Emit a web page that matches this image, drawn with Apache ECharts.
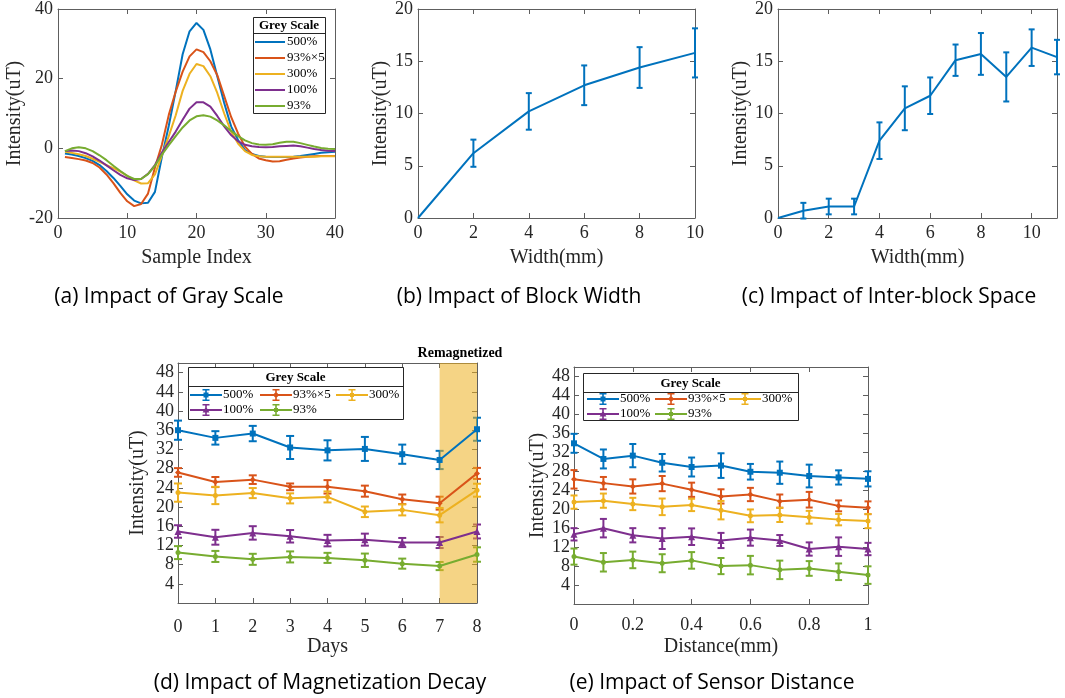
<!DOCTYPE html>
<html>
<head>
<meta charset="utf-8">
<script src="https://cdn.jsdelivr.net/npm/echarts@6/dist/echarts.min.js"></script>
<style>
html, body { margin: 0; padding: 0; background: #fff; }
#main { width: 1065px; height: 698px; }
</style>
</head>
<body>
<div id="main"></div>
<script>
var COLORS = ['#0072BD', '#D95319', '#EDB120', '#7E2F8E', '#77AC30'];
var NAMES = ['500%', '93%×5', '300%', '100%', '93%'];
var SERIF = 'Liberation Serif';
var AX = '#5e5e5e';
var TXT = '#262626';

// (a) gray scale
var sampleIdx = [1,2,3,4,5,6,7,8,9,10,11,12,13,14,15,16,17,18,19,20,21,22,23,24,25,26,27,28,29,30,31,32,33,34,35,36,37,38,39,40];
var a500  = [-1.5,-1.8,-2.2,-2.8,-3.6,-4.8,-6.5,-8.5,-10.8,-13.2,-15.0,-15.8,-15.6,-12.5,-2.5,6.5,16.5,27.0,33.6,36.0,34.0,28.4,20.7,13.0,6.3,2.4,-0.5,-1.6,-2.2,-2.4,-2.5,-2.5,-2.5,-2.4,-2.2,-1.9,-1.6,-1.3,-1.1,-1.0];
var a93x5 = [-2.5,-2.8,-3.1,-3.5,-4.2,-5.5,-7.5,-10.0,-12.8,-15.2,-16.6,-16.0,-13.0,-5.5,1.0,9.6,16.3,22.0,26.4,28.4,27.6,25.0,21.0,15.0,9.0,4.3,0.5,-1.6,-2.9,-3.4,-3.8,-3.7,-3.3,-2.9,-2.6,-2.4,-2.3,-2.2,-2.2,-2.2];
var a300  = [-1.0,-1.3,-1.7,-2.2,-3.0,-3.9,-4.8,-5.7,-6.7,-7.9,-9.2,-10.1,-10.0,-7.5,-2.0,3.5,9.5,16.5,21.4,24.2,23.6,20.7,15.9,10.0,4.8,1.4,-0.8,-1.9,-2.3,-2.4,-2.4,-2.4,-2.4,-2.4,-2.4,-2.4,-2.4,-2.3,-2.3,-2.3];
var a100  = [-0.8,-0.6,-0.8,-1.4,-2.3,-3.5,-4.9,-6.3,-7.6,-8.6,-9.1,-8.8,-7.3,-4.8,-1.2,1.8,4.8,8.2,11.4,13.2,13.2,12.0,9.3,6.3,3.8,2.0,1.0,0.6,0.4,0.3,0.4,0.6,0.7,0.8,0.6,0.2,-0.2,-0.5,-0.7,-0.8];
var a93   = [-0.8,0.0,0.3,0.0,-0.8,-2.0,-3.4,-5.0,-6.5,-7.9,-8.8,-8.8,-7.4,-5.0,-1.8,0.9,3.5,6.0,8.0,9.2,9.5,9.1,8.0,6.6,5.0,3.5,2.3,1.5,1.1,1.0,1.2,1.6,1.9,1.9,1.5,1.0,0.5,0.1,-0.1,-0.2];

// (b) block width
var bWidth = [0, 2, 4, 6, 8, 10];
var bMean  = [0, 6.2, 10.2, 12.7, 14.4, 15.8];
var bErr   = [0, 1.3, 1.75, 1.9, 1.95, 2.35];

// (c) inter-block space
var cWidth = [0, 1, 2, 3, 4, 5, 6, 7, 8, 9, 10, 11];
var cMean  = [0, 0.7, 1.1, 1.1, 7.4, 10.5, 11.7, 15.1, 15.7, 13.5, 16.3, 15.4];
var cErr   = [0, 0.75, 0.75, 0.75, 1.75, 2.1, 1.75, 1.5, 2.0, 2.35, 1.75, 1.65];

// (d) magnetization decay
var dDays    = [0, 1, 2, 3, 4, 5, 6, 7, 8];
var d500     = [36.0, 34.4, 35.3, 32.4, 31.8, 32.1, 31.0, 29.8, 36.2];
var d500Err  = [2.0, 1.4, 1.6, 2.4, 2.1, 2.5, 2.0, 1.9, 2.4];
var d93x5    = [27.2, 25.2, 25.7, 24.2, 24.2, 23.3, 21.6, 20.8, 27.0];
var d93x5Err = [0.9, 1.05, 0.9, 0.7, 1.4, 1.15, 1.0, 1.35, 1.15];
var d300     = [23.0, 22.4, 22.9, 21.8, 22.1, 19.0, 19.4, 18.3, 23.5];
var d300Err  = [1.9, 1.8, 1.05, 1.05, 1.15, 1.1, 1.15, 1.5, 1.35];
var d100     = [14.9, 13.7, 14.6, 13.9, 13.0, 13.2, 12.6, 12.6, 14.9];
var d100Err  = [1.3, 1.55, 1.4, 1.3, 1.2, 1.25, 0.95, 1.15, 1.45];
var d93      = [10.5, 9.7, 9.1, 9.6, 9.4, 8.9, 8.2, 7.7, 10.1];
var d93Err   = [1.35, 1.15, 1.15, 1.15, 1.05, 1.4, 1.05, 0.85, 1.5];
var dShade   = [[7, 8]];

// (e) sensor distance
var eDist    = [0, 0.1, 0.2, 0.3, 0.4, 0.5, 0.6, 0.7, 0.8, 0.9, 1];
var e500     = [33.9, 30.6, 31.3, 29.8, 28.9, 29.2, 27.9, 27.7, 27.0, 26.7, 26.4];
var e500Err  = [2.0, 2.0, 2.45, 1.85, 2.0, 2.6, 1.65, 2.35, 2.4, 1.5, 1.6];
var e93x5    = [26.3, 25.5, 24.8, 25.4, 24.1, 22.7, 23.1, 21.7, 22.0, 20.7, 20.3];
var e93x5Err = [1.95, 1.3, 1.5, 1.6, 1.5, 1.5, 1.4, 1.4, 1.65, 1.15, 1.35];
var e300     = [21.5, 21.8, 21.1, 20.5, 20.9, 19.8, 18.6, 18.8, 18.3, 17.8, 17.5];
var e300Err  = [1.4, 1.5, 1.3, 1.75, 1.3, 1.95, 1.35, 1.5, 1.35, 1.2, 1.5];
var e100     = [14.7, 16.0, 14.5, 13.8, 14.2, 13.4, 14.0, 13.4, 11.6, 12.1, 11.6];
var e100Err  = [1.3, 1.95, 1.5, 2.2, 1.75, 1.6, 1.7, 1.15, 1.4, 1.95, 1.3];
var e93      = [10.0, 8.8, 9.3, 8.6, 9.2, 8.0, 8.2, 7.2, 7.5, 6.8, 6.1];
var e93Err   = [1.7, 1.95, 1.75, 1.9, 1.75, 1.7, 1.95, 1.95, 1.55, 1.75, 1.85];

var SYMBOLS = ['rect', 'diamond', 'circle', 'triangle', 'circle'];
var SYMSIZE = [6, 6, 5, 7, 5];

function pairs(xs, ys) {
    return xs.map(function (x, i) { return [x, ys[i]]; });
}
function errData(xs, ys, es) {
    var out = [];
    xs.forEach(function (x, i) {
        if (es[i] > 0) out.push([x, ys[i] - es[i], ys[i] + es[i]]);
    });
    return out;
}
function errRender(cap) {
    return function (params, api) {
        var x = api.value(0);
        var lo = api.coord([x, api.value(1)]);
        var hi = api.coord([x, api.value(2)]);
        var st = { stroke: api.visual('color'), lineWidth: 2 };
        return {
            type: 'group',
            children: [
                { type: 'line', shape: { x1: lo[0], y1: lo[1], x2: hi[0], y2: hi[1] }, style: st },
                { type: 'line', shape: { x1: lo[0] - cap, y1: lo[1], x2: lo[0] + cap, y2: lo[1] }, style: st },
                { type: 'line', shape: { x1: hi[0] - cap, y1: hi[1], x2: hi[0] + cap, y2: hi[1] }, style: st }
            ]
        };
    };
}

var grids = [
    { left: 58, top: 9, width: 277, height: 209 },
    { left: 418, top: 9, width: 277, height: 209 },
    { left: 778, top: 9, width: 279, height: 209 },
    { left: 178, top: 363, width: 299, height: 240 },
    { left: 574, top: 367, width: 294, height: 237 }
];
var xAxes = [], yAxes = [];

function addAxes(g, xr, yr, c) {
    var line = { show: true, onZero: false, lineStyle: { color: AX, width: 1 } };
    var tick = { show: true, inside: true, length: 5, lineStyle: { color: AX } };
    var lab = { color: TXT, fontFamily: SERIF, fontSize: 18 };
    xAxes.push({
        type: 'value', gridIndex: g, position: 'bottom', min: xr[0], max: xr[1], interval: xr[2],
        axisLine: line, axisTick: tick, splitLine: { show: false },
        axisLabel: Object.assign({ margin: c.xMargin, formatter: c.xFmt }, lab),
        name: c.xName, nameLocation: 'middle', nameGap: c.xGap,
        nameTextStyle: { color: TXT, fontFamily: SERIF, fontSize: 20 }
    });
    xAxes.push({
        type: 'value', gridIndex: g, position: 'top', min: xr[0], max: xr[1], interval: xr[2],
        axisLine: line, axisTick: tick, splitLine: { show: false }, axisLabel: { show: false }
    });
    yAxes.push({
        type: 'value', gridIndex: g, position: 'left', min: yr[0], max: yr[1], interval: yr[2],
        axisLine: line, axisTick: tick, splitLine: { show: false },
        axisLabel: Object.assign({ margin: c.yMargin, formatter: c.yFmt }, lab),
        name: 'Intensity(uT)', nameLocation: 'middle', nameGap: c.yGap,
        nameTextStyle: { color: TXT, fontFamily: SERIF, fontSize: 20 }
    });
    yAxes.push({
        type: 'value', gridIndex: g, position: 'right', min: yr[0], max: yr[1], interval: yr[2],
        axisLine: line, axisTick: tick, splitLine: { show: false }, axisLabel: { show: false }
    });
}

addAxes(0, [0, 40, 10], [-20, 40, 20], { xName: 'Sample Index', xGap: 30, xMargin: 6, yGap: 33, yMargin: 5 });
addAxes(1, [0, 10, 2], [0, 20, 5], { xName: 'Width(mm)', xGap: 30, xMargin: 6, yGap: 25, yMargin: 5 });
addAxes(2, [0, 11, 2], [0, 20, 5], {
    xName: 'Width(mm)', xGap: 30, xMargin: 6, yGap: 26, yMargin: 5,
    xFmt: function (v) { return v === 11 ? '' : String(v); }
});
addAxes(3, [0, 8, 1], [0, 50, 4], {
    xName: 'Days', xGap: 34, xMargin: 15, yGap: 30, yMargin: 4,
    yFmt: function (v) { return (v === 0 || v === 50) ? '' : String(v); }
});
addAxes(4, [0, 1, 0.2], [0, 50, 4], {
    xName: 'Distance(mm)', xGap: 33, xMargin: 12, yGap: 24, yMargin: 4,
    yFmt: function (v) { return (v === 0 || v === 50) ? '' : String(v); }
});

var series = [];

// (a)
[a500, a93x5, a300, a100, a93].forEach(function (arr, k) {
    series.push({
        type: 'line', name: NAMES[k], xAxisIndex: 0, yAxisIndex: 0,
        data: pairs(sampleIdx, arr), symbol: 'none',
        lineStyle: { width: 2, color: COLORS[k] }, itemStyle: { color: COLORS[k] }
    });
});

// (b), (c)
[[bWidth, bMean, bErr, 2], [cWidth, cMean, cErr, 4]].forEach(function (p) {
    series.push({
        type: 'line', name: 'mean' + p[3], xAxisIndex: p[3], yAxisIndex: p[3],
        data: pairs(p[0], p[1]), symbol: 'none',
        lineStyle: { width: 2, color: COLORS[0] }, itemStyle: { color: COLORS[0] }
    });
    series.push({
        type: 'custom', name: 'err' + p[3], xAxisIndex: p[3], yAxisIndex: p[3],
        data: errData(p[0], p[1], p[2]), encode: { x: 0, y: [1, 2] },
        itemStyle: { color: COLORS[0] }, renderItem: errRender(3), silent: true
    });
});

// (d), (e)
function addGroup(ax, xs, means, errs, cap) {
    means.forEach(function (arr, k) {
        series.push({
            type: 'line', name: NAMES[k], xAxisIndex: ax, yAxisIndex: ax,
            data: pairs(xs, arr), symbol: SYMBOLS[k], symbolSize: SYMSIZE[k], showSymbol: true,
            lineStyle: { width: 2, color: COLORS[k] }, itemStyle: { color: COLORS[k] }
        });
        series.push({
            type: 'custom', name: 'err' + ax + '_' + k, xAxisIndex: ax, yAxisIndex: ax,
            data: errData(xs, arr, errs[k]), encode: { x: 0, y: [1, 2] },
            itemStyle: { color: COLORS[k] }, renderItem: errRender(cap), silent: true
        });
    });
}
addGroup(6, dDays, [d500, d93x5, d300, d100, d93], [d500Err, d93x5Err, d300Err, d100Err, d93Err], 4);
addGroup(8, eDist, [e500, e93x5, e300, e100, e93], [e500Err, e93x5Err, e300Err, e100Err, e93Err], 3.5);

// remagnetized shading
series.push({
    type: 'custom', name: 'shade', xAxisIndex: 6, yAxisIndex: 6, data: dShade,
    encode: { x: [0, 1] }, z: 3, silent: true,
    renderItem: function (params, api) {
        var p0 = api.coord([api.value(0), 0]);
        var p1 = api.coord([api.value(1), 0]);
        var cs = params.coordSys;
        return {
            type: 'rect',
            shape: { x: p0[0], y: cs.y, width: p1[0] - p0[0], height: cs.height },
            style: { fill: 'rgba(237,177,32,0.55)' }
        };
    }
});

// legend icons
var ICON_MARK = [
    'M13.5 3.5H18.5V8.5H13.5Z',
    'M16 2.8L19.2 6L16 9.2L12.8 6Z',
    'M14 4H18V8H14Z',
    'M16 2.6L19.4 8.6H12.6Z',
    'M14 4H18V8H14Z'
];
function errIcon(k) {
    return 'path://M0 5.1H32V6.9H0Z M15.2 0H16.8V12H15.2Z M12.5 0H19.5V1.4H12.5Z M12.5 10.6H19.5V12H12.5Z ' + ICON_MARK[k];
}
function legendCol(left, top, idx) {
    return {
        orient: 'vertical', left: left, top: top, padding: 0, itemGap: 2,
        itemWidth: 32, itemHeight: 12, selectedMode: false, z: 20,
        itemStyle: { borderWidth: 0 },
        textStyle: { fontFamily: SERIF, fontSize: 13, color: '#000', lineHeight: 13, padding: [0, 0, 0, -4] },
        data: idx.map(function (k) { return { name: NAMES[k], icon: errIcon(k) }; })
    };
}

var legends = [
    {
        orient: 'vertical', left: 255, top: 35, padding: 0, itemGap: 2,
        itemWidth: 30, itemHeight: 14, selectedMode: false, z: 20,
        itemStyle: { borderWidth: 0 },
        textStyle: { fontFamily: SERIF, fontSize: 13, color: '#000', lineHeight: 14, padding: [0, 0, 0, -3] },
        data: NAMES.map(function (n) { return { name: n, icon: 'path://M0 0H30V2H0Z' }; })
    },
    legendCol(190, 388.5, [0, 3]),
    legendCol(260, 388.5, [1, 4]),
    legendCol(336, 388.5, [2]),
    legendCol(587, 392.5, [0, 3]),
    legendCol(655, 392.5, [1, 4]),
    legendCol(729, 392.5, [2])
];

function box(x, y, w, h, sepY) {
    return [
        { type: 'rect', z: 10, shape: { x: x + 0.5, y: y + 0.5, width: w, height: h },
          style: { fill: '#fff', stroke: '#262626', lineWidth: 1 } },
        { type: 'line', z: 10, shape: { x1: x + 0.5, y1: sepY + 0.5, x2: x + w + 0.5, y2: sepY + 0.5 },
          style: { stroke: '#262626', lineWidth: 1 } },
        { type: 'text', z: 11, x: x + w / 2, y: (y + sepY) / 2 + 1,
          style: { text: 'Grey Scale', fontFamily: SERIF, fontSize: 13, fontWeight: 'bold', fill: '#000',
                   textAlign: 'center', textVerticalAlign: 'middle' } }
    ];
}
function caption(x, y, t) {
    return { type: 'text', z: 11, x: x, y: y,
             style: { text: t, fontFamily: 'Open Sans', fontSize: 21, fill: '#000',
                      textAlign: 'center', textVerticalAlign: 'middle' } };
}

var graphics = [].concat(
    box(253, 17, 72, 96, 33),
    box(188, 367, 215, 52, 386),
    box(583, 373, 215, 47, 392),
    [
        { type: 'text', z: 11, x: 460, y: 353,
          style: { text: 'Remagnetized', fontFamily: SERIF, fontSize: 14, fontWeight: 'bold', fill: '#000',
                   textAlign: 'center', textVerticalAlign: 'middle' } },
        caption(169, 297, '(a) Impact of Gray Scale'),
        caption(519, 297, '(b) Impact of Block Width'),
        caption(889, 297, '(c) Impact of Inter-block Space'),
        caption(320, 683, '(d) Impact of Magnetization Decay'),
        caption(712, 683, '(e) Impact of Sensor Distance')
    ]
);

var chart = echarts.init(document.getElementById('main'), null, { renderer: 'canvas' });
chart.setOption({
    animation: false,
    backgroundColor: '#fff',
    grid: grids,
    xAxis: xAxes,
    yAxis: yAxes,
    legend: legends,
    graphic: { elements: graphics },
    series: series
});
</script>
</body>
</html>
